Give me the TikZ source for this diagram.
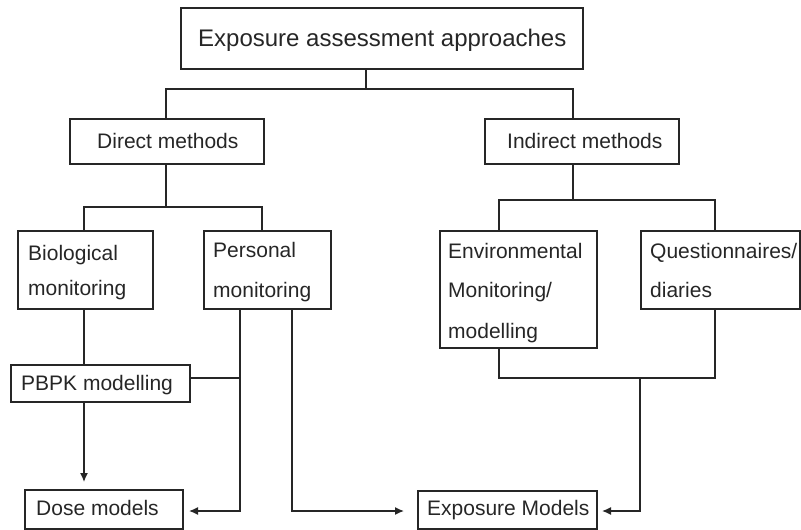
\documentclass[tikz,border=0pt]{standalone}
\usepackage{fontspec}
\setmainfont{Liberation Sans}
\usetikzlibrary{arrows.meta}
\begin{document}
\begin{tikzpicture}[x=1pt,y=-1pt,
  box/.style={draw=black!85,line width=1.5pt,rectangle,inner sep=0pt,anchor=north west},
  txt/.style={anchor=base west,inner sep=0pt,font=\fontsize{21}{24}\selectfont,text=black!85},
  bigtxt/.style={anchor=base west,inner sep=0pt,font=\fontsize{24}{28}\selectfont,text=black!85},
  conn/.style={draw=black!85,line width=1.4pt},
  arr/.style={conn,-{Latex[length=9pt,width=8pt]}}]
\useasboundingbox (0,0) rectangle (801,530);
% boxes
\node[box,minimum width=402pt,minimum height=61pt] (top) at (180,7) {};
\node[box,minimum width=194pt,minimum height=45pt] (direct) at (69,118) {};
\node[box,minimum width=194pt,minimum height=45pt] (indirect) at (484,118) {};
\node[box,minimum width=135pt,minimum height=78pt] (bio) at (17,230) {};
\node[box,minimum width=127pt,minimum height=78pt] (pers) at (203,230) {};
\node[box,minimum width=157pt,minimum height=117pt] (env) at (439,230) {};
\node[box,minimum width=159pt,minimum height=78pt] (quest) at (640,230) {};
\node[box,minimum width=179pt,minimum height=37pt] (pbpk) at (10,364) {};
\node[box,minimum width=158pt,minimum height=39pt] (dose) at (24,489) {};
\node[box,minimum width=179pt,minimum height=38pt] (expo) at (417,490) {};
% texts
\node[bigtxt] (ttop) at (198,46) {Exposure assessment approaches};
\node[txt] (tdir) at (97,148) {Direct methods};
\node[txt] (tind) at (507,148) {Indirect methods};
\node[txt] (tbio1) at (28,260) {Biological};
\node[txt] (tbio2) at (28,295) {monitoring};
\node[txt] (tper1) at (213,257) {Personal};
\node[txt] (tper2) at (213,297) {monitoring};
\node[txt] (tenv1) at (448,258) {Environmental};
\node[txt] (tenv2) at (448,297) {Monitoring/};
\node[txt] (tenv3) at (448,338) {modelling};
\node[txt] (tq1) at (650,258) {Questionnaires/};
\node[txt] (tq2) at (650,297) {diaries};
\node[txt] (tpb) at (21,390) {PBPK modelling};
\node[txt] (tdose) at (36,515) {Dose models};
\node[txt] (texpo) at (427,515) {Exposure Models};
% junction coordinates
\coordinate (j0) at (366,89);
\coordinate (jd) at (166,207);
\coordinate (ji) at (573,200);
\coordinate (xbio) at (84,0);
\coordinate (xper) at (262,0);
\coordinate (xind) at (573,0);
\coordinate (xenv) at (499,0);
\coordinate (xq) at (715,0);
\coordinate (xp1) at (240,0);
\coordinate (xp2) at (292,0);
\coordinate (jpb) at (240,378);
\coordinate (je) at (499,378);
\coordinate (jq) at (715,378);
\coordinate (jm) at (640,378);
\coordinate (dtip) at (84,482);
\coordinate (ptip) at (189,511);
\coordinate (etip1) at (404,511);
\coordinate (etip2) at (602,511);
% connectors
\draw[conn] (top.south -| j0) -- (j0) -| (direct.north -| jd);
\draw[conn] (j0) -| (indirect.north -| xind);
\draw[conn] (direct.south -| jd) -- (jd);
\draw[conn] (bio.north -| xbio) |- (jd) -| (pers.north -| xper);
\draw[conn] (indirect.south -| ji) -- (ji);
\draw[conn] (env.north -| xenv) |- (ji) -| (quest.north -| xq);
\draw[conn] (bio.south -| xbio) -- (pbpk.north -| xbio);
\draw[arr] (pbpk.south -| xbio) -- (dtip);
\draw[arr] (pers.south -| xp1) |- (ptip);
\draw[conn] (pbpk.east |- jpb) -- (jpb);
\draw[arr] (pers.south -| xp2) |- (etip1);
\draw[conn] (env.south -| xenv) -- (je) -- (jq) -- (quest.south -| xq);
\draw[arr] (jm) |- (etip2);
\end{tikzpicture}
\end{document}
